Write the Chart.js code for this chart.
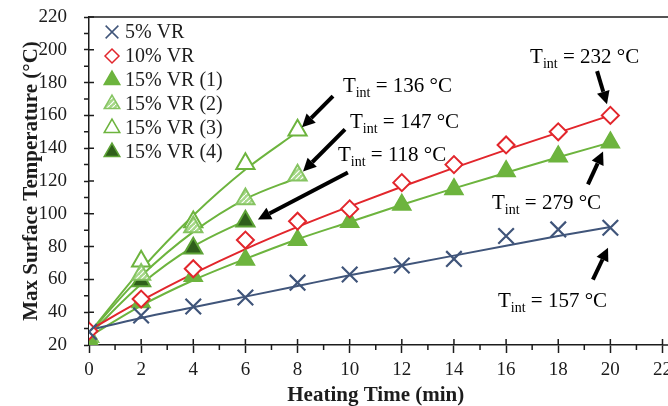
<!DOCTYPE html>
<html>
<head>
<meta charset="utf-8">
<script src="https://cdn.jsdelivr.net/npm/chart.js@4.4.1/dist/chart.umd.min.js"></script>
<style>
html, body { margin: 0; padding: 0; overflow: hidden; background: #fff; }
#wrap { width: 678px; height: 406px; }
</style>
</head>
<body>
<div id="wrap"><canvas id="myChart"></canvas></div>
<script>
// Heating time (min)
const time = [0, 2, 4, 6, 8, 10, 12, 14, 16, 18, 20];

// Measured max surface temperature (°C)
const vr5 = [28, 38, 43.5, 49, 58, 63, 68.5, 72.5, 86.5, 90.5, 91.5];
const vr10 = [28.5, 48, 66.5, 84, 95.5, 103, 119, 130, 142, 150, 160];
const vr15a = [23, 46, 62, 72, 84, 95, 105.5, 115, 126, 135, 143.5];
const vr15b = [25, 63, 92, 109, 123.5];
const vr15c = [25, 71, 95, 130.5, 151];
const vr15d = [22, 59, 79, 95.5];

// Trend lines
const fit5 = [29, 36.5, 43, 49.5, 56, 62.5, 68.5, 74.5, 80.5, 86.5, 92];
const fit10 = [29, 47, 63.5, 78.5, 92, 104.5, 116.5, 128, 139, 149.5, 160];
const fit15a = [25, 44, 59.5, 72.5, 84.5, 95, 105.5, 115.5, 125, 134.5, 143.5];
const fit15b = [27, 62, 89, 109, 122];
const fit15c = [27, 66, 99, 127, 150];
const fit15d = [26, 57, 80, 96];

const seriesNames = ["5% VR", "10% VR", "15% VR (1)", "15% VR (2)", "15% VR (3)", "15% VR (4)"];
const xTicks = [0, 2, 4, 6, 8, 10, 12, 14, 16, 18, 20, 22];
const yTicks = [20, 40, 60, 80, 100, 120, 140, 160, 180, 200, 220];

const FONT = "'Liberation Serif', 'Times New Roman', serif";
const INK = "#1c1c1c";
const BLUE = "#40557a";
const RED = "#e2262c";
const GREEN = "#6db43e";

function pts(ys) {
    return ys.map((y, i) => ({ x: time[i], y: y }));
}

// hatched fill for 15% VR (2)
function hatch() {
    const c = document.createElement("canvas");
    c.width = 5; c.height = 5;
    const g = c.getContext("2d");
    g.fillStyle = "#a6d889";
    g.fillRect(0, 0, 5, 5);
    g.strokeStyle = "#ffffff";
    g.lineWidth = 1.2;
    g.beginPath();
    g.moveTo(0, 5); g.lineTo(5, 0);
    g.stroke();
    return g.createPattern(c, "repeat");
}

function markers(label, ys, style, radius, bg, border, bw) {
    return {
        label: label, data: pts(ys), showLine: false,
        pointStyle: style, pointRadius: radius, pointHoverRadius: radius,
        backgroundColor: bg, borderColor: border, pointBorderWidth: bw,
        order: 0
    };
}
function trend(ys, color) {
    return {
        label: "fit", isFit: true, data: pts(ys), showLine: true,
        pointRadius: 0, borderColor: color, borderWidth: 2,
        tension: 0.4, cubicInterpolationMode: "monotone", order: 1
    };
}

const datasets = [
    markers(seriesNames[0], vr5, "crossRot", 11, BLUE, BLUE, 2.2),
    markers(seriesNames[1], vr10, "rectRot", 8.5, "#ffffff", RED, 2),
    markers(seriesNames[2], vr15a, "triangle", 10.5, GREEN, GREEN, 1.5),
    markers(seriesNames[3], vr15b, "triangle", 10.5, hatch(), "#86c462", 2),
    markers(seriesNames[4], vr15c, "triangle", 10.5, "#ffffff", GREEN, 2),
    markers(seriesNames[5], vr15d, "triangle", 10.5, "#2f5f1b", "#5ea337", 2),
    trend(fit5, BLUE),
    trend(fit10, RED),
    trend(fit15a, GREEN),
    trend(fit15b, GREEN),
    trend(fit15c, GREEN),
    trend(fit15d, GREEN)
];

// T_int callouts: text anchor and arrow (tail -> tip) in data units
const notes = [
    { t: "136 °C", x: 9.74, y: 178.4, x1: 9.36, y1: 171.7, x2: 8.17, y2: 152.7 },
    { t: "147 °C", x: 10.01, y: 156.4, x1: 9.82, y1: 151.5, x2: 8.21, y2: 125.8 },
    { t: "118 °C", x: 9.55, y: 136.2, x1: 9.93, y1: 125.2, x2: 6.48, y2: 96.5 },
    { t: "232 °C", x: 16.92, y: 196.1, x1: 19.49, y1: 187, x2: 19.87, y2: 166.8 },
    { t: "279 °C", x: 15.46, y: 107.5, x1: 19.14, y1: 117.9, x2: 19.72, y2: 138 },
    { t: "157 °C", x: 15.69, y: 47.5, x1: 19.33, y1: 59.8, x2: 19.91, y2: 79.3 }
];

function arrow(ctx, xa, ya, xb, yb) {
    const ang = Math.atan2(yb - ya, xb - xa);
    const len = 13, half = 6.5;
    const bx = xb - Math.cos(ang) * len, by = yb - Math.sin(ang) * len;
    ctx.beginPath();
    ctx.moveTo(xa, ya);
    ctx.lineTo(bx, by);
    ctx.lineWidth = 4;
    ctx.stroke();
    ctx.beginPath();
    ctx.moveTo(xb, yb);
    ctx.lineTo(bx + Math.sin(ang) * half, by - Math.cos(ang) * half);
    ctx.lineTo(bx - Math.sin(ang) * half, by + Math.cos(ang) * half);
    ctx.closePath();
    ctx.fill();
}

const extras = {
    id: "extras",
    afterDraw(chart) {
        const ctx = chart.ctx;
        const ca = chart.chartArea;
        const xs = chart.scales.x, ys = chart.scales.y;
        ctx.save();
        ctx.strokeStyle = INK;
        ctx.fillStyle = INK;
        ctx.lineWidth = 1.5;

        // frame: top line and axis extension to the edge
        ctx.beginPath();
        ctx.moveTo(ca.left, ca.top); ctx.lineTo(chart.width, ca.top);
        ctx.moveTo(ca.right, ca.bottom); ctx.lineTo(chart.width, ca.bottom);
        ctx.stroke();

        // minor ticks and inner halves of the major ticks
        ctx.beginPath();
        for (let v = 30; v < 220; v += 20) {
            const p = ys.getPixelForValue(v);
            ctx.moveTo(ca.left - 5, p); ctx.lineTo(ca.left, p);
        }
        for (let v = 40; v <= 220; v += 20) {
            const p = ys.getPixelForValue(v);
            ctx.moveTo(ca.left, p); ctx.lineTo(ca.left + 5, p);
        }
        for (let v = 1; v < 22; v += 2) {
            const p = xs.getPixelForValue(v);
            ctx.moveTo(p, ca.bottom); ctx.lineTo(p, ca.bottom + 5);
        }
        for (let v = 2; v <= 22; v += 2) {
            const p = xs.getPixelForValue(v);
            ctx.moveTo(p, ca.bottom); ctx.lineTo(p, ca.bottom - 6);
        }
        ctx.stroke();

        // legend inside the plot
        const shown = chart.data.datasets.filter(d => !d.isFit);
        ctx.textBaseline = "middle";
        ctx.textAlign = "left";
        shown.forEach((d, i) => {
            const cx = ca.left + 23, cy = ca.top + 15 + i * 24;
            ctx.fillStyle = d.backgroundColor;
            ctx.strokeStyle = d.borderColor;
            const r = d.pointStyle === "triangle" ? 9 : (d.pointStyle === "crossRot" ? 9 : 7);
            Chart.helpers.drawPoint(ctx, { pointStyle: d.pointStyle, radius: r, borderWidth: d.pointBorderWidth, rotation: 0 }, cx, cy);
            ctx.fillStyle = INK;
            ctx.font = "20px " + FONT;
            ctx.fillText(d.label, ca.left + 36, cy + 1);
        });

        // T_int callouts
        ctx.textBaseline = "alphabetic";
        ctx.fillStyle = "#000";
        ctx.strokeStyle = "#000";
        notes.forEach(n => {
            let x = xs.getPixelForValue(n.x);
            const y = ys.getPixelForValue(n.y) + 7;
            ctx.font = "21px " + FONT;
            ctx.fillText("T", x, y);
            x += ctx.measureText("T").width;
            ctx.font = "14px " + FONT;
            ctx.fillText("int", x, y + 5);
            x += ctx.measureText("int").width;
            ctx.font = "21px " + FONT;
            ctx.fillText(" = " + n.t, x, y);
            arrow(ctx, xs.getPixelForValue(n.x1), ys.getPixelForValue(n.y1),
                xs.getPixelForValue(n.x2), ys.getPixelForValue(n.y2));
        });
        ctx.restore();
    }
};

drawChart();
function drawChart() {
    const config = {
        type: "scatter",
        data: { datasets: datasets },
        options: {
            responsive: true,
            maintainAspectRatio: false,
            animation: false,
            layout: { padding: { top: 17, right: 0, bottom: 0, left: 0 } },
            plugins: {
                legend: { display: false },
                tooltip: { enabled: false }
            },
            scales: {
                x: {
                    type: "linear",
                    min: 0,
                    max: 22,
                    afterBuildTicks: s => { s.ticks = xTicks.map(v => ({ value: v })); },
                    afterFit: s => { s.height = 61; },
                    ticks: { color: INK, font: { family: FONT, size: 19 }, padding: 6, maxRotation: 0 },
                    grid: { drawOnChartArea: false, drawTicks: true, tickLength: 8, tickColor: INK, tickWidth: 1.5 },
                    border: { color: INK, width: 1.5 },
                    title: {
                        display: true, text: "Heating Time (min)", color: INK,
                        font: { family: FONT, size: 21, weight: "bold", lineHeight: 1 },
                        padding: { top: 0, bottom: 0 }
                    }
                },
                y: {
                    min: 20,
                    max: 220,
                    afterBuildTicks: s => { s.ticks = yTicks.map(v => ({ value: v })); },
                    afterFit: s => { s.width = 89; s.paddingTop = 0; s.paddingBottom = 0; },
                    ticks: { color: INK, font: { family: FONT, size: 19 }, padding: 17 },
                    grid: { drawOnChartArea: false, drawTicks: true, tickLength: 5, tickColor: INK, tickWidth: 1.5 },
                    border: { color: INK, width: 1.5 },
                    title: {
                        display: true, text: "Max Surface Temperature (°C)", color: INK,
                        font: { family: FONT, size: 21, weight: "bold", lineHeight: 1 },
                        padding: { top: 21, bottom: 0 }
                    }
                }
            }
        },
        plugins: [extras]
    };
    const myChart = new Chart(document.getElementById("myChart"), config);
}
</script>
</body>
</html>
